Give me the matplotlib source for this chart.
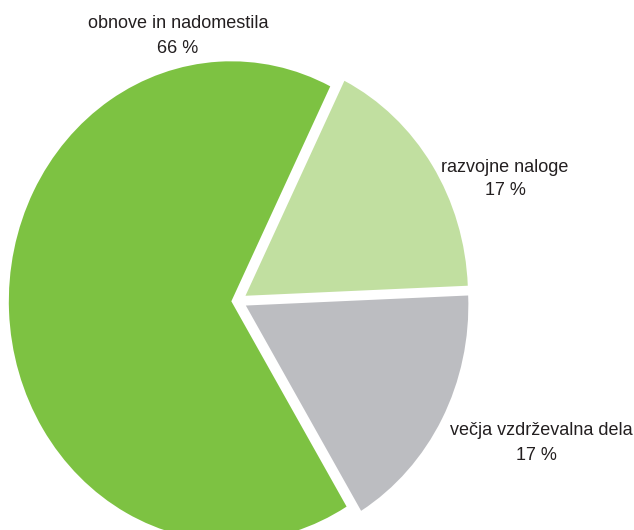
import matplotlib
matplotlib.use('Agg')
import matplotlib.pyplot as plt

categories = ['obnove in nadomestila', 'razvojne naloge', 'večja vzdrževalna dela']
values = [66, 17, 17]
pct_labels = ['66 %', '17 %', '17 %']
colors = ['#7DC242', '#C1DFA0', '#BCBDC1']

# label anchor positions in pixels (name center x, name baseline y, pct center x, pct baseline y)
label_pos = [(178.7, 28, 177.5, 53),
             (504.7, 172, 505.5, 195),
             (541.0, 435, 536.7, 460)]

W, H = 634, 530
fig = plt.figure(figsize=(W / 100, H / 100), dpi=100)
ax = fig.add_axes([0, 0, 1, 1])
rx, ry = 222.5, 240.0   # px per data unit (pie is slightly stretched vertically)
cx, cy = 238.0, 301.0   # pie centre in px from top-left

wedges, _ = ax.pie(values, colors=colors, explode=[0.03, 0.04, 0.04],
                   startangle=301.2, counterclock=False,
                   wedgeprops=dict(linewidth=0))
ax.set_aspect('auto')
ax.set_xlim(-cx / rx, (W - cx) / rx)
ax.set_ylim(-(H - cy) / ry, cy / ry)
ax.axis('off')

txt_color = '#231F20'
for name, pct, (nx, ny, px, py) in zip(categories, pct_labels, label_pos):
    ax.text(nx / W, 1 - ny / H, name, transform=ax.transAxes, ha='center',
            va='baseline', fontsize=13, family='Liberation Sans', color=txt_color)
    ax.text(px / W, 1 - py / H, pct, transform=ax.transAxes, ha='center',
            va='baseline', fontsize=13, family='Liberation Sans', color=txt_color)

fig.savefig('out.png', dpi=100)
